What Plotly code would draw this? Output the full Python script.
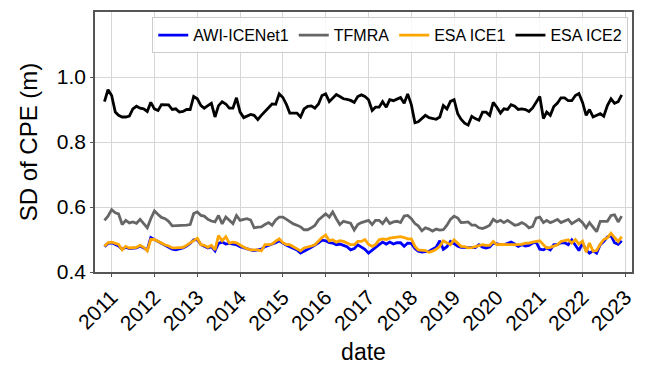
import pandas as pd
import plotly.graph_objects as go

# monthly dates Nov 2010 - Dec 2022
dates = pd.date_range("2010-11-01", "2022-12-01", freq="MS")

awi_icenet1 = [
    0.478, 0.488, 0.490, 0.486, 0.480, 0.470, 0.476, 0.472, 0.474, 0.474,
    0.480, 0.474, 0.468, 0.506, 0.500, 0.492, 0.486, 0.480, 0.476, 0.470,
    0.468, 0.470, 0.474, 0.480, 0.488, 0.499, 0.500, 0.484, 0.480, 0.474,
    0.478, 0.465, 0.488, 0.492, 0.486, 0.488, 0.486, 0.484, 0.478, 0.474,
    0.470, 0.468, 0.466, 0.468, 0.470, 0.478, 0.482, 0.484, 0.490, 0.496,
    0.488, 0.482, 0.478, 0.474, 0.468, 0.458, 0.465, 0.470, 0.476, 0.482,
    0.490, 0.498, 0.496, 0.490, 0.489, 0.484, 0.486, 0.482, 0.478, 0.468,
    0.472, 0.484, 0.478, 0.470, 0.458, 0.466, 0.476, 0.484, 0.492, 0.486,
    0.492, 0.486, 0.490, 0.490, 0.479, 0.489, 0.488, 0.472, 0.464, 0.461,
    0.463, 0.464, 0.470, 0.476, 0.496, 0.470, 0.478, 0.494, 0.487, 0.479,
    0.476, 0.476, 0.474, 0.474, 0.475, 0.484, 0.476, 0.474, 0.477, 0.489,
    0.486, 0.484, 0.484, 0.489, 0.492, 0.486, 0.479, 0.484, 0.480, 0.482,
    0.489, 0.492, 0.470, 0.468, 0.474, 0.468, 0.484, 0.484, 0.490, 0.490,
    0.484, 0.499, 0.484, 0.466, 0.489, 0.468, 0.458, 0.465, 0.458, 0.484,
    0.494, 0.508, 0.512, 0.490, 0.485, 0.496,
]

tfmra = [
    0.559, 0.572, 0.592, 0.582, 0.579, 0.546, 0.559, 0.551, 0.554, 0.550,
    0.562, 0.548, 0.536, 0.564, 0.588, 0.577, 0.568, 0.564, 0.556, 0.542,
    0.542, 0.543, 0.543, 0.544, 0.546, 0.580, 0.585, 0.574, 0.572, 0.562,
    0.557, 0.554, 0.574, 0.548, 0.569, 0.559, 0.549, 0.574, 0.559, 0.562,
    0.564, 0.560, 0.536, 0.538, 0.539, 0.546, 0.552, 0.544, 0.560, 0.569,
    0.569, 0.562, 0.555, 0.548, 0.544, 0.539, 0.530, 0.530, 0.536, 0.543,
    0.560, 0.570, 0.579, 0.569, 0.585, 0.564, 0.546, 0.556, 0.552, 0.550,
    0.529, 0.546, 0.552, 0.556, 0.559, 0.546, 0.559, 0.559, 0.549, 0.564,
    0.549, 0.554, 0.556, 0.552, 0.572, 0.574, 0.564, 0.549, 0.542, 0.527,
    0.536, 0.532, 0.526, 0.532, 0.529, 0.530, 0.544, 0.562, 0.572, 0.566,
    0.552, 0.553, 0.554, 0.544, 0.544, 0.536, 0.534, 0.538, 0.544, 0.562,
    0.554, 0.559, 0.552, 0.559, 0.552, 0.544, 0.546, 0.552, 0.546, 0.536,
    0.540, 0.566, 0.569, 0.552, 0.559, 0.552, 0.556, 0.562, 0.552, 0.556,
    0.562, 0.549, 0.556, 0.562, 0.552, 0.536, 0.552, 0.536, 0.524, 0.556,
    0.556, 0.556, 0.574, 0.576, 0.554, 0.572,
]

esa_ice1 = [
    0.479, 0.490, 0.492, 0.489, 0.485, 0.468, 0.479, 0.474, 0.476, 0.476,
    0.482, 0.476, 0.465, 0.500, 0.500, 0.494, 0.488, 0.483, 0.480, 0.474,
    0.474, 0.474, 0.476, 0.482, 0.490, 0.496, 0.504, 0.484, 0.482, 0.476,
    0.482, 0.468, 0.512, 0.496, 0.509, 0.489, 0.492, 0.490, 0.482, 0.476,
    0.472, 0.468, 0.468, 0.468, 0.465, 0.484, 0.484, 0.486, 0.495, 0.502,
    0.490, 0.484, 0.484, 0.478, 0.472, 0.465, 0.474, 0.476, 0.480, 0.484,
    0.496, 0.506, 0.514, 0.496, 0.499, 0.492, 0.496, 0.494, 0.489, 0.484,
    0.484, 0.494, 0.494, 0.500, 0.485, 0.479, 0.484, 0.499, 0.502, 0.500,
    0.504, 0.506, 0.508, 0.509, 0.506, 0.502, 0.502, 0.479, 0.468, 0.468,
    0.466, 0.461, 0.464, 0.470, 0.479, 0.496, 0.490, 0.484, 0.499, 0.489,
    0.479, 0.478, 0.474, 0.475, 0.478, 0.482, 0.484, 0.482, 0.482, 0.494,
    0.484, 0.485, 0.484, 0.484, 0.484, 0.484, 0.484, 0.485, 0.489, 0.489,
    0.492, 0.494, 0.496, 0.484, 0.474, 0.476, 0.480, 0.484, 0.494, 0.496,
    0.499, 0.489, 0.500, 0.486, 0.495, 0.461, 0.489, 0.464, 0.466, 0.485,
    0.500, 0.505, 0.519, 0.506, 0.494, 0.509,
]

esa_ice2 = [
    0.924, 0.961, 0.943, 0.892, 0.882, 0.877, 0.877, 0.880, 0.902, 0.910,
    0.904, 0.902, 0.894, 0.922, 0.902, 0.897, 0.915, 0.914, 0.914, 0.900,
    0.902, 0.892, 0.894, 0.900, 0.900, 0.940, 0.933, 0.912, 0.904, 0.912,
    0.919, 0.877, 0.912, 0.924, 0.917, 0.904, 0.904, 0.936, 0.892, 0.875,
    0.880, 0.885, 0.882, 0.869, 0.882, 0.895, 0.905, 0.917, 0.916, 0.948,
    0.937, 0.915, 0.889, 0.890, 0.889, 0.877, 0.902, 0.910, 0.911, 0.904,
    0.917, 0.943, 0.948, 0.924, 0.934, 0.946, 0.940, 0.933, 0.931, 0.928,
    0.922, 0.940, 0.945, 0.940, 0.930, 0.897, 0.907, 0.907, 0.924, 0.907,
    0.930, 0.927, 0.932, 0.937, 0.919, 0.948, 0.915, 0.859, 0.862, 0.872,
    0.882, 0.875, 0.872, 0.870, 0.877, 0.912, 0.902, 0.925, 0.930, 0.887,
    0.870, 0.858, 0.852, 0.879, 0.872, 0.867, 0.892, 0.892, 0.882, 0.922,
    0.907, 0.889, 0.902, 0.900, 0.915, 0.910, 0.900, 0.902, 0.900, 0.894,
    0.905, 0.922, 0.940, 0.872, 0.892, 0.882, 0.909, 0.920, 0.936, 0.936,
    0.927, 0.927, 0.943, 0.949, 0.922, 0.882, 0.900, 0.877, 0.882, 0.887,
    0.879, 0.912, 0.933, 0.919, 0.924, 0.945,
]

series_names = ["AWI-ICENet1", "TFMRA", "ESA ICE1", "ESA ICE2"]
series_values = [awi_icenet1, tfmra, esa_ice1, esa_ice2]
series_colors = ["#0000ff", "#666666", "#ffa500", "#000000"]

year_ticks = [f"{y}-01-01" for y in range(2011, 2024)]
year_labels = [str(y) for y in range(2011, 2024)]
y_ticks = [0.4, 0.6, 0.8, 1.0]
y_labels = ["0.4", "0.6", "0.8", "1.0"]

FONT = "Liberation Sans, Arial, Helvetica, sans-serif"

fig = go.Figure()
for name, vals, col in zip(series_names, series_values, series_colors):
    fig.add_trace(go.Scatter(
        x=dates, y=vals, mode="lines", name=name,
        line=dict(color=col, width=2.8),
    ))

fig.update_layout(
    width=654, height=371,
    margin=dict(l=95, r=22, t=10, b=97),
    paper_bgcolor="white", plot_bgcolor="white",
    font=dict(family=FONT, color="black", size=21),
    showlegend=True,
    legend=dict(
        orientation="h", x=0.993, xanchor="right", y=0.98, yanchor="top",
        bgcolor="rgba(255,255,255,0.85)", bordercolor="#cccccc", borderwidth=1,
        font=dict(size=16, family=FONT), itemwidth=30,
        tracegroupgap=0,
    ),
    xaxis=dict(
        range=["2010-08-12", "2023-02-27"],
        tickmode="array", tickvals=year_ticks, ticktext=year_labels,
        tickangle=-45, tickfont=dict(size=21),
        showgrid=True, gridcolor="#d6d6d6", gridwidth=1,
        showline=True, linecolor="#555555", linewidth=1.5, mirror=True,
        ticks="outside", ticklen=3, tickcolor="#555555",
        title=dict(text="date", font=dict(size=23), standoff=10),
        zeroline=False,
    ),
    yaxis=dict(
        range=[0.4, 1.2],
        tickmode="array", tickvals=y_ticks, ticktext=y_labels,
        tickfont=dict(size=21),
        showgrid=True, gridcolor="#d6d6d6", gridwidth=1,
        showline=True, linecolor="#555555", linewidth=1.5, mirror=True,
        ticks="outside", ticklen=3, tickcolor="#555555",
        title=dict(text="SD of CPE (m)", font=dict(size=24), standoff=12),
        zeroline=False,
    ),
)

fig.write_html("out.html")
